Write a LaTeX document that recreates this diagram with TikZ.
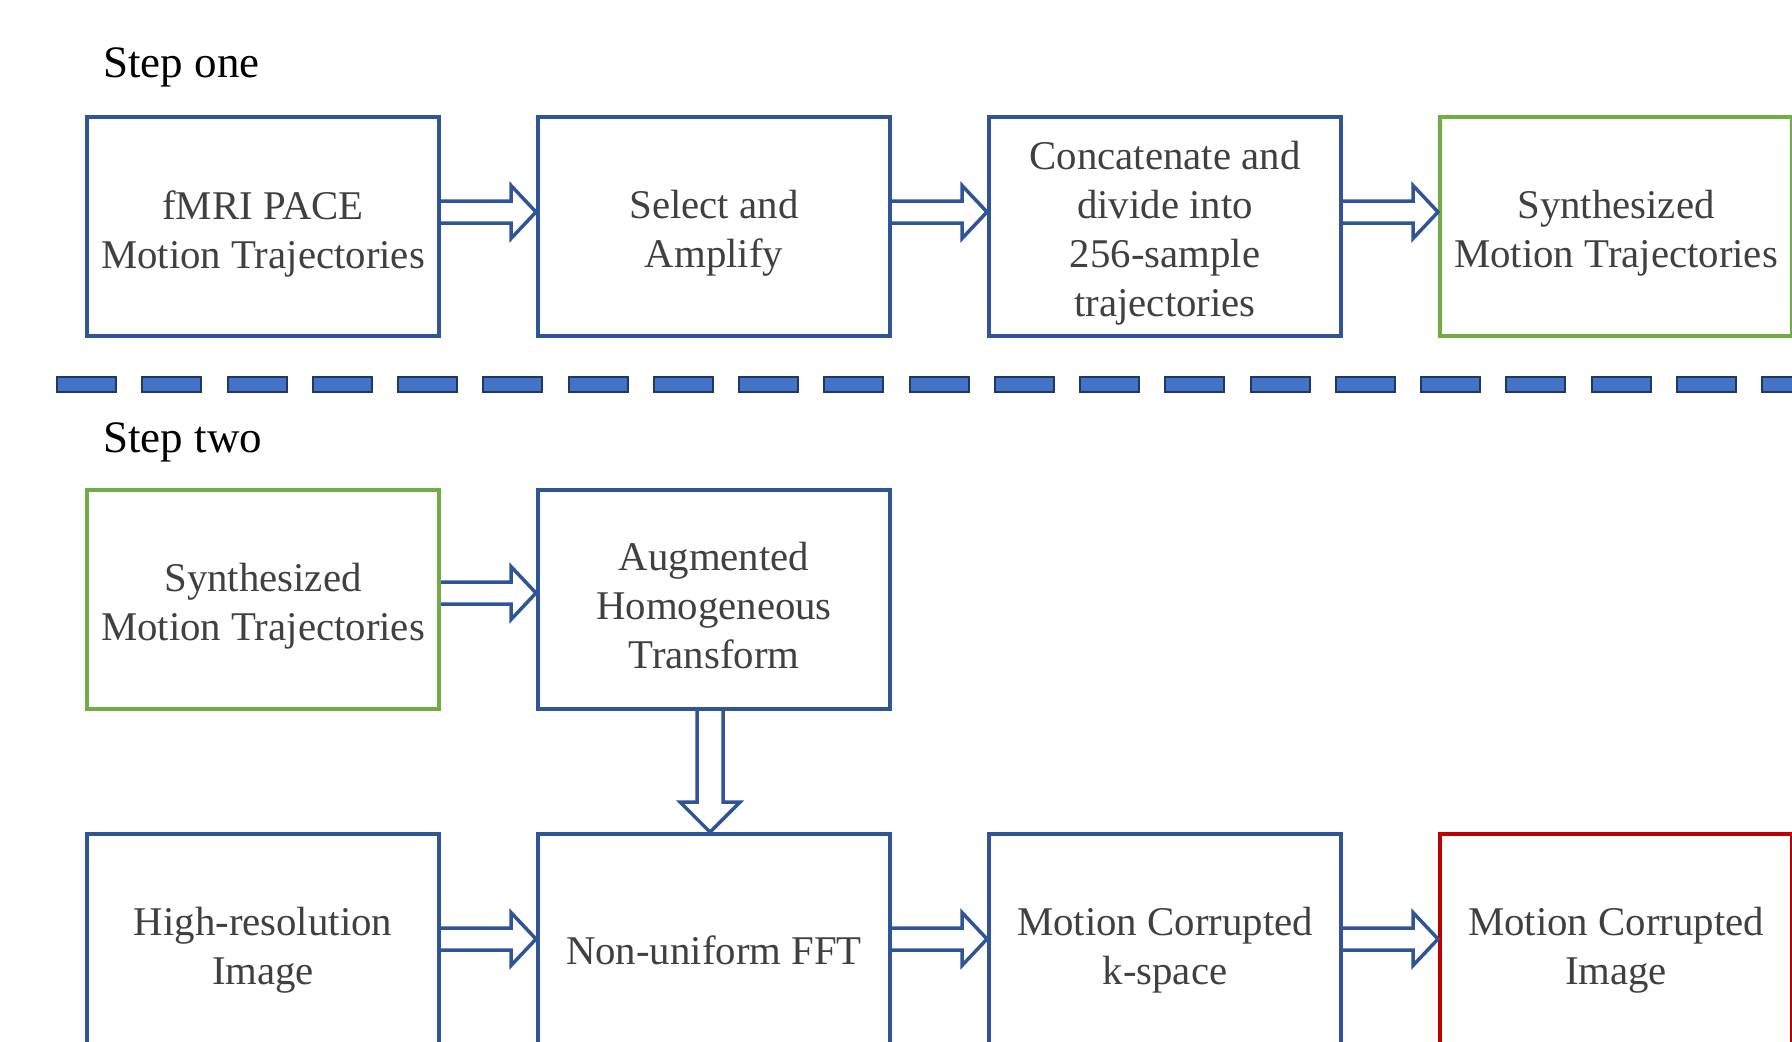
\documentclass[tikz,border=0pt]{standalone}
\usepackage{fontspec}
\setmainfont{Liberation Serif}
\usepackage{xcolor}
\usetikzlibrary{calc}

\definecolor{boxblue}{HTML}{2F5597}
\definecolor{synthgreen}{HTML}{70AD47}
\definecolor{corruptred}{HTML}{C00000}
\definecolor{dashfill}{HTML}{4472C4}
\definecolor{dashedge}{HTML}{1F3864}
\definecolor{textgray}{HTML}{404040}

\begin{document}
\begin{tikzpicture}[x=0.5pt, y=-0.5pt,
    box/.style={draw=boxblue, line width=2pt, minimum width=176pt, minimum height=109.5pt, inner sep=0pt},
    greenbox/.style={box, draw=synthgreen},
    redbox/.style={box, draw=corruptred},
    boxtext/.style={inner sep=0pt, yshift=-3.5pt, align=center, text=textgray,
        font=\fontsize{20.4}{24.5}\selectfont},
    steplabel/.style={anchor=base west, inner sep=0pt, font=\fontsize{22.5}{27}\selectfont},
    dashbar/.style={draw=dashedge, fill=dashfill, line width=1pt},
    fatright/.style={draw=boxblue, line width=1.75pt, line join=miter,
        to path={let \p1=(\tikztostart), \p2=(\tikztotarget) in
            (\x1,\y1+5.5pt) -- (\x2-12.5pt,\y1+5.5pt) -- (\x2-12.5pt,\y1+13.25pt) -- (\x2,\y1)
            -- (\x2-12.5pt,\y1-13.25pt) -- (\x2-12.5pt,\y1-5.5pt) -- (\x1,\y1-5.5pt)}},
    fatdown/.style={draw=boxblue, line width=1.75pt, line join=miter,
        to path={let \p1=(\tikztostart), \p2=(\tikztotarget) in
            (\x1-6.5pt,\y1) -- (\x1-6.5pt,\y2+15pt) -- (\x1-15pt,\y2+15pt) -- (\x1,\y2)
            -- (\x1+15pt,\y2+15pt) -- (\x1+6.5pt,\y2+15pt) -- (\x1+6.5pt,\y1)}}]
    \useasboundingbox (0,0) rectangle (1792,1041);
    \clip (0,0) rectangle (1792,1041);

    % step one
    \node[steplabel] (stepone) at (103,77) {Step one};
    \node[box, label={[boxtext]center:fMRI PACE\\Motion Trajectories}] (pace) at (263,226.5) {};
    \node[box, label={[boxtext]center:Select and\\Amplify}] (amplify) at (714,226.5) {};
    \node[box, label={[boxtext]center:Concatenate and\\divide into\\256-sample\\trajectories}] (concat) at (1165,226.5) {};
    \node[greenbox, label={[boxtext]center:Synthesized\\Motion Trajectories}] (synthone) at (1616,226.5) {};

    \draw[fatright] ([yshift=7.25pt]pace.east) to ([yshift=7.25pt]amplify.west);
    \draw[fatright] ([yshift=7.25pt]amplify.east) to ([yshift=7.25pt]concat.west);
    \draw[fatright] ([yshift=7.25pt]concat.east) to ([yshift=7.25pt]synthone.west);

    % separator
    \foreach \i in {0,...,20}
        \draw[dashbar] (57+\i*85.25,377) rectangle ++(59,15);

    % step two
    \node[steplabel] (steptwo) at (103,452) {Step two};
    \node[greenbox, label={[boxtext]center:Synthesized\\Motion Trajectories}] (synthtwo) at (263,599) {};
    \node[box, label={[boxtext]center:Augmented\\Homogeneous\\Transform}] (aht) at (714,599) {};
    \node[box, label={[boxtext]center:High-resolution\\Image}] (hires) at (263,943.5) {};
    \node[box, label={[boxtext]center:Non-uniform FFT}] (nufft) at (714,943.5) {};
    \node[box, label={[boxtext]center:Motion Corrupted\\k-space}] (kspace) at (1165,943.5) {};
    \node[redbox, label={[boxtext]center:Motion Corrupted\\Image}] (corrupt) at (1616,943.5) {};

    \draw[fatright] ([yshift=3pt]synthtwo.east) to ([yshift=3pt]aht.west);
    \draw[fatdown] ([xshift=-2pt]aht.south) to ([xshift=-2pt]nufft.north);
    \draw[fatright] ([yshift=2.25pt]hires.east) to ([yshift=2.25pt]nufft.west);
    \draw[fatright] ([yshift=2.25pt]nufft.east) to ([yshift=2.25pt]kspace.west);
    \draw[fatright] ([yshift=2.25pt]kspace.east) to ([yshift=2.25pt]corrupt.west);
\end{tikzpicture}
\end{document}
